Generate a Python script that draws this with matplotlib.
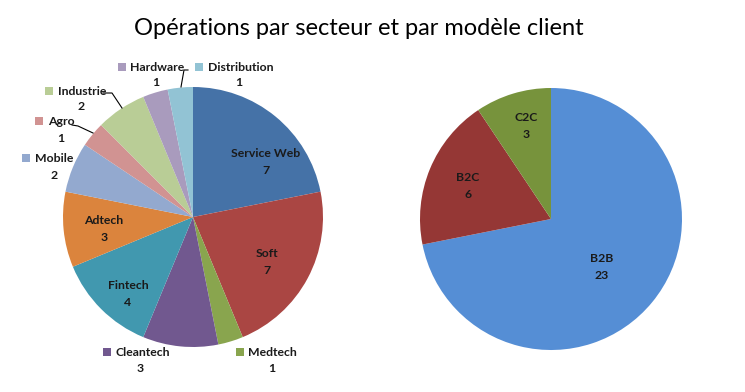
import matplotlib
matplotlib.use("Agg")
from matplotlib import pyplot as plt

# left pie: operations by sector
sectors = ["Service Web", "Soft", "Medtech", "Cleantech", "Fintech", "Adtech",
           "Mobile", "Agro", "Industrie", "Hardware", "Distribution"]
sector_counts = [7, 7, 1, 3, 4, 3, 2, 1, 2, 1, 1]
sector_colors = ["#4572A7", "#AA4643", "#89A54E", "#71588F", "#4198AF", "#DB843D",
                 "#93A9CF", "#D19392", "#B9CD96", "#A99BBD", "#92C3D4"]

# right pie: operations by client model
models = ["B2B", "B2C", "C2C"]
model_counts = [23, 6, 3]
model_colors = ["#558ED5", "#953735", "#77933C"]

title = "Opérations par secteur et par modèle client"

W, H = 745, 392
plt.rcParams['font.family'] = ['Lato', 'DejaVu Sans']

fig = plt.figure(figsize=(W / 100, H / 100), dpi=100)
ax = fig.add_axes([0, 0, 1, 1])


def Y(y):
    # pixel row (from top) -> axis y
    return H - y


ax.pie(sector_counts, colors=sector_colors, startangle=90, counterclock=False,
       center=(193, Y(217)), radius=130, frame=True,
       wedgeprops=dict(linewidth=0))
ax.pie(model_counts, colors=model_colors, startangle=90, counterclock=False,
       center=(551, Y(219)), radius=131, frame=True,
       wedgeprops=dict(linewidth=0))
ax.set_xlim(0, W)
ax.set_ylim(0, H)
ax.set_aspect("equal")
ax.axis("off")

lab = dict(fontsize=8.8, fontweight="bold", color="#1a1a1a")

# labels drawn inside the slices: name -> (x, y) of the text block centre
inside_pos = {"Service Web": (266, 162), "Soft": (267, 262),
              "Fintech": (128, 294), "Adtech": (104, 229),
              "B2B": (602, 267), "B2C": (468, 186), "C2C": (526, 126)}

# labels outside the pie: name -> (marker x, name y, name left x, value x, value y)
outside_pos = {"Medtech": (240, 352, 248, 272, 368),
               "Cleantech": (107, 352, 115, 140, 368),
               "Mobile": (26, 158, 35, 54, 175),
               "Agro": (39, 121, 48, 61, 138),
               "Industrie": (49, 91, 58, 81, 106),
               "Hardware": (122, 67, 130, 156, 82),
               "Distribution": (199, 67, 208, 239, 82)}

# leader lines
leaders = {"Industrie": [(103, 93), (112, 93), (122, 108)],
           "Agro": [(72, 125), (78, 126), (93, 133)],
           "Distribution": [(188, 70), (184, 70), (181, 87)]}

for names, counts, colors in [(sectors, sector_counts, sector_colors),
                              (models, model_counts, model_colors)]:
    for name, n, c in zip(names, counts, colors):
        if name in inside_pos:
            x, y = inside_pos[name]
            ax.text(x, Y(y), f"{name}\n{n}", ha="center", va="center",
                    linespacing=1.6, **lab)
        else:
            mx, ny, nx, vx, vy = outside_pos[name]
            ax.plot(mx, Y(ny), marker="s", markersize=5.5, color=c,
                    markeredgewidth=0, linestyle="none")
            ax.text(nx, Y(ny), name, ha="left", va="center", **lab)
            ax.text(vx, Y(vy), str(n), ha="center", va="center", **lab)

for name, pts in leaders.items():
    ax.plot([p[0] for p in pts], [Y(p[1]) for p in pts], color="black",
            linewidth=0.8)

ax.text(359, Y(28), title, ha="center", va="center", fontsize=17,
        color="black")

fig.savefig("out.png", dpi=100, facecolor="white")
